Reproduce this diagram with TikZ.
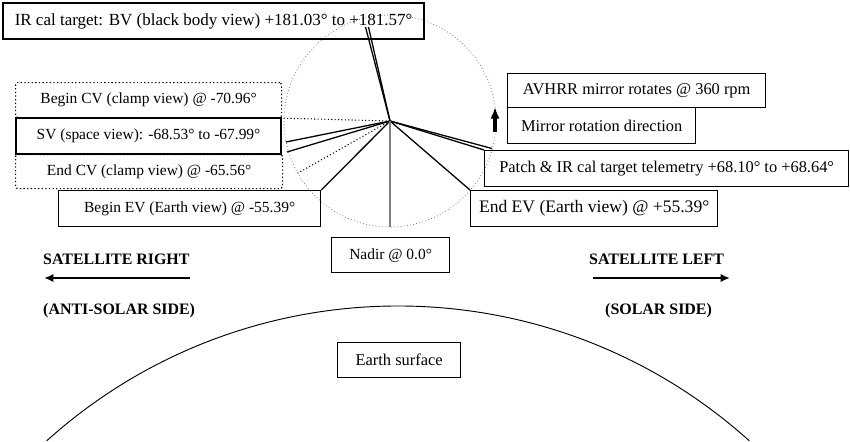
\documentclass[tikz,border=0pt]{standalone}
\usepackage{fontspec}
\setmainfont{Liberation Serif}
\usepackage{tikz}
\usetikzlibrary{arrows.meta}

\begin{document}
\begin{tikzpicture}[x=0.03cm,y=-0.03cm,
  every node/.style={font=\fontsize{14}{16}\selectfont},
  lbl/.style={draw,line width=1.1pt,anchor=north west,inner sep=0pt},
  heavylbl/.style={lbl,line width=1.8pt},
  cvlbl/.style={lbl,dotted,line width=1pt,rounded corners=1.5pt},
  beam/.style={line width=1.1pt},
  cvbeam/.style={dotted,line width=0.9pt},
  small/.style={font=\fontsize{13.2}{16}\selectfont},
  sidelbl/.style={font=\fontsize{13.6}{16}\selectfont\bfseries,anchor=west,inner sep=0pt}]
  \useasboundingbox (0,0) rectangle (850,441);
  % scan circle
  \coordinate (c) at (390,121);
  \draw[dotted,gray,line width=0.7pt] (c) circle (106);
  % view boxes
  \node[heavylbl,minimum width=126.3mm,minimum height=10.8mm,font=\fontsize{14.5}{16}\selectfont] (bv) at (2,2) {IR cal target: BV (black body view) +181.03° to +181.57°};
  \node[cvlbl,small,minimum width=79.8mm,minimum height=10.5mm] (bcv) at (15,82) {Begin CV (clamp view) @ -70.96°};
  \node[heavylbl,small,minimum width=79.5mm,minimum height=10.8mm] (sv) at (15,117) {SV (space view): -68.53° to -67.99°};
  \node[cvlbl,small,minimum width=80.1mm,minimum height=10.2mm] (ecv) at (15,154) {End CV (clamp view) @ -65.56°};
  \node[lbl,small,minimum width=78.6mm,minimum height=10.8mm] (bev) at (58,190) {Begin EV (Earth view) @ -55.39°};
  \node[lbl,small,minimum width=35.4mm,minimum height=10.5mm] (nadir) at (331,237) {Nadir @ 0.0°};
  \node[lbl,minimum width=77.4mm,minimum height=10.2mm] (avhrr) at (507,73) {AVHRR mirror rotates @ 360 rpm};
  \node[lbl,minimum width=56.4mm,minimum height=10.8mm] (mrd) at (507,107) {Mirror rotation direction};
  \node[lbl,minimum width=109.2mm,minimum height=10.8mm] (patch) at (484,150) {Patch \& IR cal target telemetry +68.10° to +68.64°};
  \node[lbl,minimum width=74.1mm,minimum height=10.8mm,font=\fontsize{15}{16}\selectfont] (eev) at (470,190) {End EV (Earth view) @ +55.39°};
  % beam ends on the circle
  \coordinate (bv1) at (365.5,27);
  \coordinate (bv2) at (368.5,27);
  \coordinate (sv1) at (286,142);
  \coordinate (sv2) at (287,152);
  \coordinate (pt1) at (492,148.5);
  \coordinate (ecv1) at (298,173);
  \coordinate (nd) at (390,227);
  \foreach \t in {bv1, bv2, sv1, sv2, pt1, bev.north east, eev.north west, patch.north west}
    \draw[beam] (c) -- (\t);
  \foreach \t in {bcv.south east, ecv1}
    \draw[cvbeam] (c) -- (\t);
  \draw[gray,line width=0.9pt] (c) -- (nd);
  % rotation arrow
  \coordinate (rot0) at (495,132);
  \coordinate (rot1) at (495,107);
  \draw[line width=2.6pt,-{Latex[length=10pt,width=8pt]}] (rot0) -- (rot1);
  % satellite sides
  \node[sidelbl] (satr) at (43,259) {SATELLITE RIGHT};
  \node[sidelbl] (anti) at (43,311) {(ANTI-SOLAR SIDE)};
  \node[sidelbl] (satl) at (589,259) {SATELLITE LEFT};
  \node[sidelbl] (solar) at (605,311) {(SOLAR SIDE)};
  \coordinate (ra0) at (190,278);
  \coordinate (ra1) at (44,278);
  \coordinate (la0) at (593,278);
  \coordinate (la1) at (730,278);
  \draw[line width=1.8pt,-{Latex[length=8pt,width=7pt]}] (ra0) -- (ra1);
  \draw[line width=1.8pt,-{Latex[length=8pt,width=7pt]}] (la0) -- (la1);
  % earth
  \draw[line width=0.8pt] (46.7,440.8) arc[start angle=-132,end angle=-48,radius=525];
  \node[lbl,minimum width=36.9mm,minimum height=10.5mm] (earth) at (337,342) {Earth surface};
\end{tikzpicture}
\end{document}
